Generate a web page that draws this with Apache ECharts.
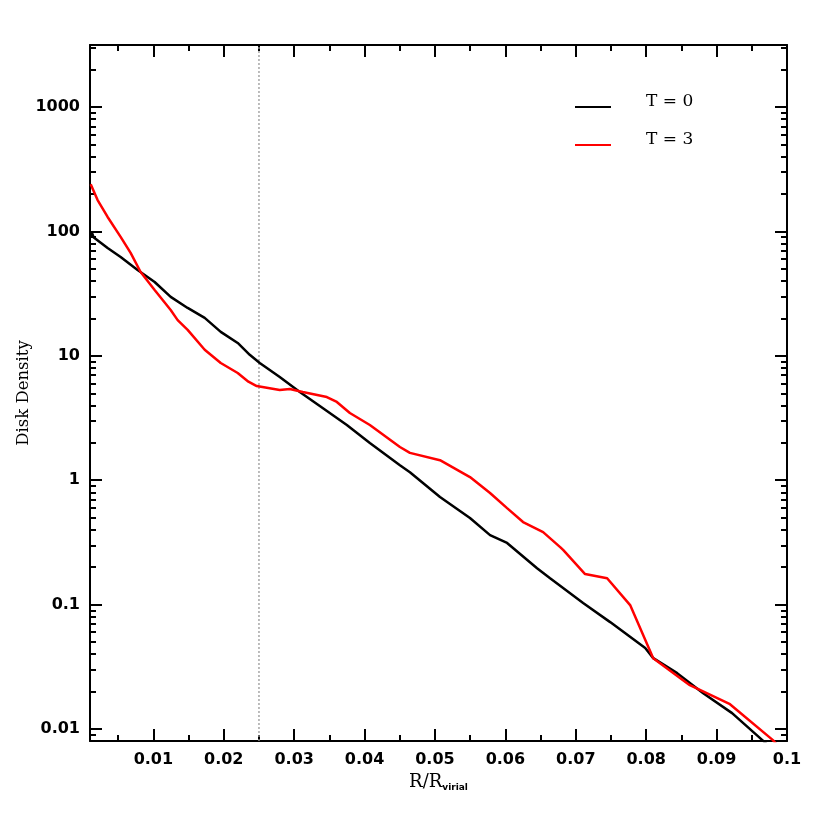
<!DOCTYPE html>
<html><head><meta charset="utf-8">
<script src="https://cdn.jsdelivr.net/npm/echarts@6/dist/echarts.min.js"></script>
<style>html,body{margin:0;padding:0;background:#fff}#c{width:830px;height:830px}</style>
</head><body><div id="c"></div>
<script>
// ---- data ----
const seriesNames = ['T = 0', 'T = 3'];
const t0Radius  = [0.0011, 0.0013, 0.0015, 0.0035, 0.00535, 0.00776, 0.01018, 0.01246, 0.01487, 0.01729, 0.01957, 0.02198, 0.02369, 0.02511, 0.02795, 0.0308, 0.03364, 0.03748, 0.04075, 0.04502, 0.04644, 0.05071, 0.05497, 0.05782, 0.06024, 0.0645, 0.06635, 0.07104, 0.07488, 0.07986, 0.0810, 0.0844, 0.0881, 0.0922, 0.0965, 0.0980];
const t0Density = [92, 97, 90, 73.8, 62.5, 49.1, 39.3, 29.8, 24.3, 20.2, 15.6, 12.7, 10.2, 8.77, 6.77, 5.12, 3.95, 2.78, 1.99, 1.32, 1.16, 0.733, 0.497, 0.362, 0.313, 0.196, 0.163, 0.103, 0.0723, 0.0447, 0.0371, 0.0281, 0.0194, 0.0134, 0.00813, 0.0068];
const t3Radius  = [0.0011, 0.00208, 0.0035, 0.00535, 0.00677, 0.00819, 0.01018, 0.01246, 0.01345, 0.01487, 0.01729, 0.01957, 0.02198, 0.0235, 0.02468, 0.02795, 0.02938, 0.03122, 0.03464, 0.03606, 0.03791, 0.04075, 0.04502, 0.04644, 0.05071, 0.05497, 0.05782, 0.06024, 0.06251, 0.06536, 0.06778, 0.0682, 0.07132, 0.07445, 0.07772, 0.0810, 0.0848, 0.0862, 0.0919, 0.0980, 0.0990];
const t3Density = [240, 179, 131, 90.6, 67.3, 47.3, 33.9, 23.4, 19.4, 16.2, 11.2, 8.77, 7.28, 6.2, 5.72, 5.32, 5.42, 5.12, 4.67, 4.26, 3.47, 2.78, 1.85, 1.66, 1.45, 1.06, 0.789, 0.597, 0.461, 0.383, 0.290, 0.275, 0.176, 0.163, 0.0991, 0.0371, 0.0257, 0.0225, 0.0158, 0.00813, 0.0070];
const markerRadius = 0.025;
const xRange = [0.001, 0.1];
const yRange = [0.008, 3162.28];
const xTickVals = [0.01, 0.02, 0.03, 0.04, 0.05, 0.06, 0.07, 0.08, 0.09, 0.1];
const xTickLabels = ['0.01', '0.02', '0.03', '0.04', '0.05', '0.06', '0.07', '0.08', '0.09', '0.1'];
const xMinorVals = [0.005, 0.015, 0.025, 0.035, 0.045, 0.055, 0.065, 0.075, 0.085, 0.095];
const yTickVals = [0.01, 0.1, 1, 10, 100, 1000];
const yTickLabels = ['0.01', '0.1', '1', '10', '100', '1000'];
const yMinorMultipliers = [2, 3, 4, 5, 6, 7, 8, 9];

// ---- build ----
const L = Math.log10;
const yLo = L(yRange[0]), yHi = L(yRange[1]);
const yMajor = yTickVals.map(L);
const yMinor = [];
[-3, -2, -1, 0, 1, 2, 3].forEach(k => yMinorMultipliers.forEach(m => {
  const v = k + L(m);
  if (v > yLo && v < yHi) yMinor.push(v);
}));

const chart = echarts.init(document.getElementById('c'), null, {renderer: 'canvas'});
const lineCol = '#000';
const labelFont = {fontFamily: 'DejaVu Sans', fontWeight: 'bold', fontSize: 16, color: '#000'};

function xAx(pos, vals, len, withLine, withLabel) {
  return {
    type: 'value', position: pos, min: xRange[0], max: xRange[1],
    splitLine: {show: false},
    axisLine: {show: withLine, onZero: false, lineStyle: {color: lineCol, width: 2}},
    axisTick: {show: true, inside: true, length: len, customValues: vals, lineStyle: {color: lineCol, width: 2}},
    axisLabel: withLabel ? Object.assign({show: true, margin: 11, customValues: xTickVals,
      formatter: v => { let i = xTickVals.findIndex(t => Math.abs(t - v) < 1e-9); return i >= 0 ? xTickLabels[i] : ''; }}, labelFont)
      : {show: false}
  };
}
function yAx(pos, vals, len, withLine, withLabel) {
  return {
    type: 'value', position: pos, min: yLo, max: yHi,
    splitLine: {show: false},
    axisLine: {show: withLine, onZero: false, lineStyle: {color: lineCol, width: 2}},
    axisTick: {show: true, inside: true, length: len, customValues: vals, lineStyle: {color: lineCol, width: 2}},
    axisLabel: withLabel ? Object.assign({show: true, margin: 10, customValues: yMajor,
      formatter: v => { let i = yMajor.findIndex(t => Math.abs(t - v) < 1e-9); return i >= 0 ? yTickLabels[i] : ''; }}, labelFont)
      : {show: false}
  };
}

const xAxes = [
  xAx('bottom', xTickVals, 12, true, true),
  xAx('bottom', xMinorVals, 6, false, false),
  xAx('top', xTickVals, 12, true, false),
  xAx('top', xMinorVals, 6, false, false)
];
xAxes[0].name = '{a|R/R}{b|virial}';
xAxes[0].nameLocation = 'middle';
xAxes[0].nameGap = 31;
xAxes[0].nameTextStyle = {rich: {
  a: {fontFamily: 'DejaVu Serif', fontSize: 18, color: '#000'},
  b: {fontFamily: 'DejaVu Sans', fontWeight: 'bold', fontSize: 9, color: '#000', padding: [11, 0, 0, 0]}
}};
const yAxes = [
  yAx('left', yMajor, 12, true, true),
  yAx('left', yMinor, 6, false, false),
  yAx('right', yMajor, 12, true, false),
  yAx('right', yMinor, 6, false, false)
];
yAxes[0].name = 'Disk Density';
yAxes[0].nameLocation = 'middle';
yAxes[0].nameGap = 58;
yAxes[0].nameMoveOverlap = false;
yAxes[0].nameTextStyle = {fontFamily: 'DejaVu Serif', fontSize: 16.5, color: '#000'};

const toPts = (xs, ys) => xs.map((x, i) => [x, L(ys[i])]);

chart.setOption({
  animation: false,
  backgroundColor: '#fff',
  grid: {left: 90, right: 43, top: 45, bottom: 89, containLabel: false},
  legend: {
    data: seriesNames, orient: 'vertical', left: 570, top: 88,
    itemWidth: 36, itemHeight: 2, itemGap: 21, icon: 'rect',
    formatter: n => '{t|' + n + '}',
    textStyle: {rich: {t: {fontFamily: 'DejaVu Serif', fontSize: 17, color: '#000', padding: [0, 0, 11, 30]}}}
  },
  xAxis: xAxes,
  yAxis: yAxes,
  series: [
    {name: 'marker', type: 'line', data: [[markerRadius, yLo], [markerRadius, yHi]], symbol: 'none', silent: true,
     lineStyle: {color: '#999', width: 1.3, type: [2, 2]}},
    {name: seriesNames[0], type: 'line', data: toPts(t0Radius, t0Density), symbol: 'none',
     itemStyle: {color: '#000'}, lineStyle: {color: '#000', width: 2.5}},
    {name: seriesNames[1], type: 'line', data: toPts(t3Radius, t3Density), symbol: 'none',
     itemStyle: {color: '#ff0000'}, lineStyle: {color: '#ff0000', width: 2.5}}
  ]
});
</script></body></html>
